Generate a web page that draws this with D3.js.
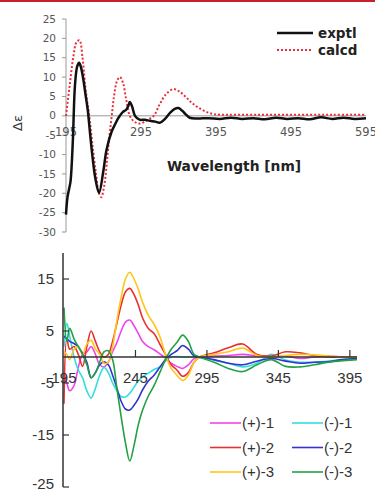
<!DOCTYPE html>
<html>
<head>
<meta charset="utf-8">
<script src="https://cdn.jsdelivr.net/npm/d3@7"></script>
<style>
  html, body { margin: 0; padding: 0; background: #fff; }
  svg { display: block; }
</style>
</head>
<body>
<div id="chart"></div>
<script>
// ---- top panel: exptl vs calcd ----
const exptlWl = [195, 197, 199, 201, 204, 207, 210, 212.5, 215, 218, 221, 224, 227, 230, 234, 239, 245, 249, 256, 261, 265, 271, 275, 278, 280, 283, 287, 293, 300, 307, 314, 320, 327, 334, 340, 345, 350, 354, 360, 370, 385, 400, 415, 430, 445, 460, 475, 490, 505, 520, 535, 550, 565, 580, 595]
const exptlVals = [-25.5, -21, -19, -17, -7, 8, 12.8, 13.7, 12.5, 9.5, 5.5, 1.5, -4.4, -10, -16, -19.9, -14, -8.8, -4, -2, -0.5, 1, 1.5, 2.5, 3.6, 2.5, 0, -1, -1, -1.3, -1.5, -1.8, -0.8, 0.8, 1.8, 2, 1.3, 0.5, -0.5, -0.7, -0.6, -0.8, -0.5, -0.8, -0.6, -0.9, -0.5, -0.8, -0.6, -0.9, -0.4, -0.8, -0.5, -0.8, -0.6]
const calcdWl = [195, 200, 205, 209, 213, 217, 221, 226, 230, 235, 239, 242, 246, 250, 253, 256, 259, 263, 267, 271, 275, 280, 286, 293, 300, 306, 312, 320, 328, 338, 346, 354, 362, 370, 380, 390, 400, 450, 500, 550, 595]
const calcdVals = [0, 8, 15.5, 19, 19.5, 15, 7, 0, -7, -15, -20, -21, -18, -11, -5, 0, 5, 9, 10, 8.5, 4.5, 0, -1.5, -2, -1.5, -0.8, 0, 3, 5.5, 6.9, 6.3, 5, 3.5, 2.3, 1.2, 0.5, 0.3, 0.3, 0.3, 0.3, 0.3]
const topTicksX = [195, 295, 395, 495, 595]
const topTicksY = [25, 20, 15, 10, 5, 0, -5, -10, -15, -20, -25, -30]

// ---- bottom panel: six enantiomer curves ----
const wl = [195, 197, 199, 202, 205, 208, 211, 214, 217, 220, 223, 226, 229, 232, 235, 238, 241, 244, 247, 250, 254, 258, 262, 266, 270, 274, 278, 282, 286, 290, 300, 310, 320, 330, 340, 350, 360, 370, 380, 390, 400]
const plus1 = [-3, -5, -6.5, -5.5, -2, 0.5, 1, 2, 0.5, -1.5, -1.9, -1, 1, 2.8, 5, 6.7, 7.1, 6, 4.5, 3, 2, 1.4, 0.6, -0.2, -1.2, -1.8, -2.2, -1.5, -0.3, 0, 0.2, 0.3, 0.5, 0.2, 0, 0.2, -0.3, 0, 0.2, 0, 0]
const minus1 = [2, 6.5, 4, 0, -2.5, -4, -6.5, -7.9, -6, -3.5, -2, -3, -5, -6.5, -7.6, -7.7, -7, -5.8, -4.6, -3.8, -3.1, -2.4, -1.9, -0.8, 0, 0.1, 0, 0, 0, -0.2, -0.6, -1.2, -1.9, -1.2, 0.5, -0.6, -1, -1, -0.8, -0.5, -0.3]
const plus2 = [-9, 3.5, 1.5, 2, 0.5, -1.8, 2, 5, 3, 1, 0, 0.5, 3, 6.5, 10, 12.5, 13.2, 12, 10, 7.5, 5.5, 4.5, 2.5, 0.5, -1.5, -2.5, -3.7, -3, -1, 0, 0.8, 1.8, 2.5, 0.5, 0.2, 1, 0.8, 0.3, 0, 0, 0]
const minus2 = [4, 3.5, 3, 2.6, 2, 0.7, -1, -4, -3, -1.5, -0.9, -1.5, -3.5, -6, -8.5, -10, -10.2, -9.3, -8, -6.3, -4.6, -3.5, -2, -0.5, 0.5, 1.2, 2.2, 1.5, 0.2, 0, -0.5, -1.2, -1.5, -0.8, -0.3, -0.8, -1.2, -1, -0.9, -0.5, -0.3]
const plus3 = [1, 0.5, -0.5, 1.5, 2, 0.5, 2.5, 3.2, 1.5, 0.5, -1.2, -1, 2, 7, 11.5, 15, 16.3, 15, 13, 10.5, 8, 6.3, 4, 0.5, -2.2, -3.5, -4.5, -3.5, -1, 0, 0.5, 1, 1.7, 0.3, 0, 0.3, 0.5, 0.4, 0.2, 0, 0]
const minus3 = [9.5, 3, 5.5, 3.5, 2, 0.5, -1.5, -4, -3, -1, 1, 1.2, -0.5, -6, -11.5, -16.5, -20, -17, -13, -10.2, -7.5, -5.5, -3, -0.5, 1.5, 2.8, 4.2, 3, 0.5, 0, -1, -2.2, -2.8, -1.5, -0.5, -1.8, -1.9, -1.5, -1, -0.7, -0.5]
const seriesNames = ["(+)-1", "(-)-1", "(+)-2", "(-)-2", "(+)-3", "(-)-3"]
const seriesColors = ["#ee44ee", "#33dddd", "#e83030", "#3333d0", "#ffc61a", "#22a045"]
const botTicksX = [195, 245, 295, 345, 395]
const botTicksY = [15, 5, -5, -15, -25]

const W = 375, H = 493
const svg = d3.select("#chart").append("svg").attr("width", W).attr("height", H)

// red rule along the top edge
svg.append("rect").attr("x", 0).attr("y", 0).attr("width", W).attr("height", 2).attr("fill", "#c8202a")

// ---------- top panel ----------
const x1 = d3.scaleLinear().domain([195, 595]).range([66, 366])
const y1 = d3.scaleLinear().domain([-30, 25]).range([232, 19])
const topG = svg.append("g").attr("font-family", "DejaVu Sans, sans-serif")

topG.append("line").attr("x1", 66).attr("x2", 66).attr("y1", y1(25)).attr("y2", y1(-30))
    .attr("stroke", "#999").attr("stroke-width", 1)
topG.append("line").attr("x1", x1(195)).attr("x2", x1(595)).attr("y1", y1(0)).attr("y2", y1(0))
    .attr("stroke", "#999").attr("stroke-width", 1)

topG.selectAll(".ytk").data(topTicksY).enter().append("line")
    .attr("x1", 62).attr("x2", 66).attr("y1", d => y1(d)).attr("y2", d => y1(d))
    .attr("stroke", "#999")
topG.selectAll(".ylab").data(topTicksY).enter().append("text")
    .attr("x", 56).attr("y", d => y1(d)).attr("dy", "0.35em")
    .attr("text-anchor", "end").attr("font-size", 10.5).attr("fill", "#555")
    .text(d => d)
topG.selectAll(".xlab").data(topTicksX).enter().append("text")
    .attr("x", d => x1(d)).attr("y", 136)
    .attr("text-anchor", "middle").attr("font-size", 11.5).attr("fill", "#555")
    .text(d => d)

topG.append("text").attr("transform", "translate(22,123) rotate(-90)")
    .attr("text-anchor", "middle").attr("font-size", 13).attr("fill", "#333")
    .text("Δε")
topG.append("text").attr("x", 234).attr("y", 171).attr("text-anchor", "middle")
    .attr("font-size", 13.8).attr("font-weight", "bold").attr("fill", "#222")
    .text("Wavelength [nm]")

const line1 = d3.line().x(d => x1(d[0])).y(d => y1(d[1])).curve(d3.curveCatmullRom)
topG.append("path").attr("d", line1(d3.zip(calcdWl, calcdVals)))
    .attr("fill", "none").attr("stroke", "#e8303c").attr("stroke-width", 2)
    .attr("stroke-dasharray", "2,2")
topG.append("path").attr("d", line1(d3.zip(exptlWl, exptlVals)))
    .attr("fill", "none").attr("stroke", "#111").attr("stroke-width", 2.5)

// legend
const lg1 = topG.append("g")
lg1.append("line").attr("x1", 277).attr("x2", 313).attr("y1", 33).attr("y2", 33)
    .attr("stroke", "#111").attr("stroke-width", 2.5)
lg1.append("line").attr("x1", 277).attr("x2", 313).attr("y1", 50).attr("y2", 50)
    .attr("stroke", "#e8303c").attr("stroke-width", 2).attr("stroke-dasharray", "2,2")
lg1.append("text").attr("x", 318).attr("y", 38).attr("font-size", 13.5).attr("font-weight", "bold")
    .attr("fill", "#222").text("exptl")
lg1.append("text").attr("x", 318).attr("y", 55).attr("font-size", 13.5).attr("font-weight", "bold")
    .attr("fill", "#222").text("calcd")

// ---------- bottom panel ----------
const x2 = d3.scaleLinear().domain([195, 400]).range([64, 357])
const y2 = d3.scaleLinear().domain([-25, 20]).range([487, 253])
const botG = svg.append("g").attr("font-family", "Liberation Sans, Arial, sans-serif")

const allSeries = [plus1, minus1, plus2, minus2, plus3, minus3]
const line2 = d3.line().x((d, i) => x2(wl[i])).y(d => y2(d)).curve(d3.curveCatmullRom)
allSeries.forEach((s, i) => {
    botG.append("path").attr("d", line2(s))
        .attr("fill", "none").attr("stroke", seriesColors[i]).attr("stroke-width", 1.6)
})

botG.append("line").attr("x1", 63).attr("x2", 63).attr("y1", y2(20)).attr("y2", y2(-25))
    .attr("stroke", "#333").attr("stroke-width", 1.5)
botG.append("line").attr("x1", 63).attr("x2", x2(400)).attr("y1", y2(0)).attr("y2", y2(0))
    .attr("stroke", "#333").attr("stroke-width", 1.5)
botG.selectAll(".yt").data(botTicksY).enter().append("line")
    .attr("x1", 63).attr("x2", 69).attr("y1", d => y2(d)).attr("y2", d => y2(d))
    .attr("stroke", "#333").attr("stroke-width", 1.2)
botG.selectAll(".xt").data(botTicksX.slice(1)).enter().append("line")
    .attr("x1", d => x2(d)).attr("x2", d => x2(d)).attr("y1", y2(0)).attr("y2", y2(0) - 7)
    .attr("stroke", "#333").attr("stroke-width", 1.2)
// the lowest label sits at the bottom edge, so nudge it up a touch
botG.selectAll(".yl").data(botTicksY).enter().append("text")
    .attr("x", 54).attr("y", d => Math.min(y2(d), 484)).attr("dy", "0.36em")
    .attr("text-anchor", "end").attr("font-size", 15).attr("fill", "#333")
    .text(d => d)
botG.selectAll(".xl").data(botTicksX).enter().append("text")
    .attr("x", d => x2(d)).attr("y", 383)
    .attr("text-anchor", "middle").attr("font-size", 15).attr("fill", "#333")
    .text(d => d)

// legend, two columns by three rows
const lg2 = botG.selectAll(".lg").data(seriesNames).enter().append("g")
    .attr("transform", (d, i) => `translate(${i % 2 === 0 ? 210 : 292}, ${423 + Math.floor(i / 2) * 24.5})`)
lg2.append("line").attr("x1", 0).attr("x2", 31).attr("y1", 0).attr("y2", 0)
    .attr("stroke", (d, i) => seriesColors[i]).attr("stroke-width", 1.6)
lg2.append("text").attr("x", 32).attr("y", 0).attr("dy", "0.36em")
    .attr("font-size", 15).attr("fill", "#333").text(d => d)
</script>
</body>
</html>
